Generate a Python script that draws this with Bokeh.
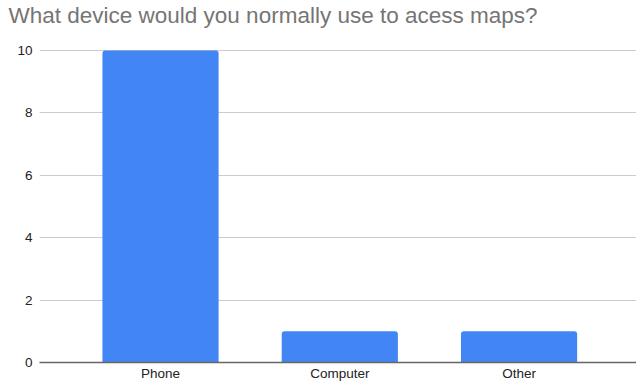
from bokeh.plotting import figure
from bokeh.models import Range1d, FixedTicker, Title
from bokeh.embed import file_html
from bokeh.resources import INLINE

title = "What device would you normally use to acess maps?"
categories = ["Phone", "Computer", "Other"]
values = [10, 1, 1]
y_ticks = [0, 2, 4, 6, 8, 10]

xs = list(range(len(categories)))

p = figure(width=636, height=383, output_backend="svg", toolbar_location=None,
           x_range=Range1d(-0.675, 2.655), y_range=Range1d(0, 10.1),
           min_border_left=39, min_border_right=0, min_border_top=47, min_border_bottom=19)
p.title = None

spacer = Title(text=" ", text_font_size="1px", standoff=15)
main_title = Title(text=title, text_font="Liberation Sans", text_font_size="22.5px",
                   text_font_style="normal", text_color="#757575", offset=-31,
                   standoff=0, vertical_align="top")
p.add_layout(spacer, "above")
p.add_layout(main_title, "above")

p.vbar(x=xs, top=values, width=0.648, bottom=0, fill_color="#4285F4",
       line_color=None, border_radius=(3, 3, 0, 0))

p.outline_line_color = None
p.background_fill_color = "white"
p.border_fill_color = "white"

p.xgrid.grid_line_color = None
p.ygrid.grid_line_color = "#cccccc"
p.ygrid.ticker = FixedTicker(ticks=y_ticks)

p.yaxis.ticker = FixedTicker(ticks=y_ticks)
p.yaxis.axis_line_color = None
p.yaxis.major_tick_line_color = None
p.yaxis.major_tick_out = 0
p.yaxis.major_tick_in = 0
p.yaxis.minor_tick_line_color = None
p.yaxis.minor_tick_out = 0
p.yaxis.major_label_text_font = "Liberation Sans"
p.yaxis.major_label_text_font_size = "13.5px"
p.yaxis.major_label_text_color = "#222222"
p.yaxis.major_label_standoff = 7

p.xaxis.ticker = FixedTicker(ticks=xs)
p.xaxis.major_label_overrides = {i: c for i, c in zip(xs, categories)}
p.xaxis.axis_line_color = "#666666"
p.xaxis.axis_line_width = 1.5
p.xaxis.major_tick_line_color = None
p.xaxis.major_tick_out = 0
p.xaxis.major_tick_in = 0
p.xaxis.minor_tick_line_color = None
p.xaxis.minor_tick_out = 0
p.xaxis.major_label_text_font = "Liberation Sans"
p.xaxis.major_label_text_font_size = "13.5px"
p.xaxis.major_label_text_color = "#222222"
p.xaxis.major_label_standoff = 3

open("out.html", "w").write(file_html(p, INLINE))
